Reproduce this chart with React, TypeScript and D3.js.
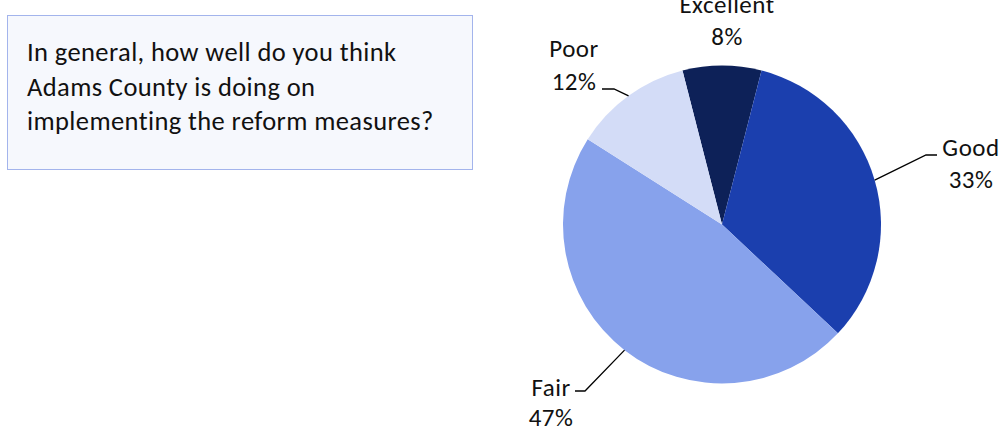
import React from "react";
import * as d3 from "d3";

const categories = ["Excellent", "Good", "Fair", "Poor"];
const values = [8, 33, 47, 12];
const colors = ["#0d2158", "#1b3fae", "#87a2ec", "#d3dcf7"];
const questionLines = [
  "In general, how well do you think",
  "Adams County is doing on",
  "implementing the reform measures?",
];

const W = 1002;
const H = 431;
const cx = 722;
const cy = 224.5;
const R = 159;
const FONT = "Carlito, Lato, 'Open Sans', sans-serif";

// label layout: center x, first baseline y, gap between lines, leader elbow + end
const labelLayout: Record<string, { x: number; y: number; gap: number; elbow?: [number, number]; end?: [number, number] }> = {
  Excellent: { x: 727, y: 13, gap: 32 },
  Good: { x: 971, y: 156, gap: 32, elbow: [926, 155], end: [937, 155] },
  Fair: { x: 551, y: 396, gap: 30, elbow: [585, 391], end: [575, 391] },
  Poor: { x: 574, y: 57, gap: 33, elbow: [614, 89], end: [602, 89] },
};

export default function App() {
  const data = categories.map((c, i) => ({ name: c, value: values[i], color: colors[i] }));
  const startOffset = -(values[0] / d3.sum(values)) * Math.PI; // first slice centered at top
  const pie = d3
    .pie<{ name: string; value: number; color: string }>()
    .value((d) => d.value)
    .sort(null)
    .startAngle(startOffset)
    .endAngle(startOffset + 2 * Math.PI);
  const arcs = pie(data);
  const arc = d3.arc<d3.PieArcDatum<any>>().innerRadius(0).outerRadius(R);

  return (
    <div style={{ position: "absolute", left: 0, top: 0, width: W, height: H }}>
      <svg width={W} height={H} style={{ display: "block" }}>
        <rect x={7.5} y={15.5} width={465} height={154} fill="#f6f8fd" stroke="#a3b4ec" strokeWidth={1} />
        {questionLines.map((t, i) => (
          <text key={i} x={27} y={61 + i * 34.5} fontFamily={FONT} fontSize={26.5} letterSpacing={0.4} fill="#111">
            {t}
          </text>
        ))}
        <g transform={`translate(${cx},${cy})`}>
          {arcs.map((a) => (
            <path key={a.data.name} d={arc(a) as string} fill={a.data.color} />
          ))}
        </g>
        {arcs.map((a) => {
          const L = labelLayout[a.data.name];
          const mid = (a.startAngle + a.endAngle) / 2;
          const ex = cx + R * Math.sin(mid);
          const ey = cy - R * Math.cos(mid);
          return (
            <g key={a.data.name}>
              {L.elbow && L.end && (
                <polyline
                  points={`${ex},${ey} ${L.elbow[0]},${L.elbow[1]} ${L.end[0]},${L.end[1]}`}
                  fill="none"
                  stroke="#000"
                  strokeWidth={1.3}
                />
              )}
              <text x={L.x} y={L.y} textAnchor="middle" fontFamily={FONT} fontSize={25} letterSpacing={0.5} fill="#111">
                {a.data.name}
              </text>
              <text x={L.x} y={L.y + L.gap} textAnchor="middle" fontFamily={FONT} fontSize={25} letterSpacing={0.5} fill="#111">
                {a.data.value}%
              </text>
            </g>
          );
        })}
      </svg>
    </div>
  );
}
